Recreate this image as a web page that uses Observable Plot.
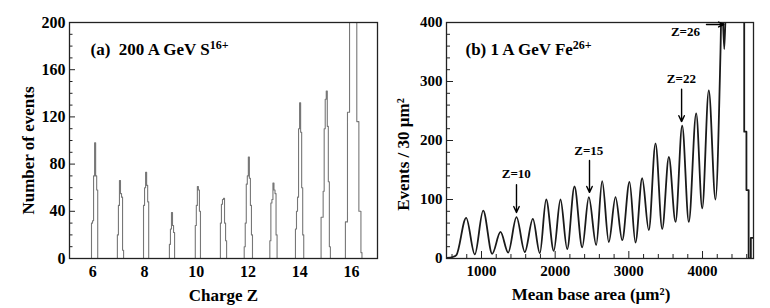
<!DOCTYPE html>
<html><head><meta charset="utf-8">
<script src="https://cdn.jsdelivr.net/npm/d3@7"></script>
<script src="https://cdn.jsdelivr.net/npm/@observablehq/plot@0.6"></script>
<style>
body{margin:0;background:#fff;}
#wrap{display:flex;width:770px;height:308px;overflow:hidden;}
svg text{font-family:"Liberation Serif","Times New Roman",serif;}
</style></head><body><div id="wrap"></div>
<script>
// ---- Panel (a): 200 A GeV S16+ ----
const zBinWidth = 0.04;
const peakStartsA = [5.95, 6.95, 7.96, 8.96, 9.96, 10.93, 11.85, 12.84, 13.83, 14.82, 15.76];
const peakCountsA = [
  [30, 32, 70, 98, 70, 58],
  [20, 45, 66, 55, 52, 7],
  [45, 60, 73, 62, 48],
  [12, 25, 39, 28, 22],
  [28, 45, 61, 58, 40],
  [30, 46, 50, 51, 30, 15],
  [10, 30, 63, 70, 86, 68, 45, 20],
  [15, 47, 50, 64, 58, 55, 20],
  [25, 40, 52, 110, 132, 107, 60, 20],
  [35, 35, 57, 110, 135, 142, 112, 65, 10],
  [31, 31, 124, 124, 250, 270, 280, 270, 250, 230, 210, 116, 116, 40, 40, 5]
];
const xTicksA = [6, 8, 10, 12, 14, 16];
const yTicksA = [0, 40, 80, 120, 160, 200];
const yMinorA = [10, 20, 30, 50, 60, 70, 90, 100, 110, 130, 140, 150, 170, 180, 190];

// ---- Panel (b): 1 A GeV Fe26+ ----
const areaB = [525, 620, 660, 792, 909, 1023, 1145, 1258, 1362, 1475, 1588, 1697, 1792, 1878, 1981, 2072, 2163, 2262, 2367, 2457, 2557, 2638, 2728, 2819, 2910, 3009, 3090, 3181, 3271, 3362, 3453, 3543, 3634, 3724, 3814, 3914, 3996, 4085, 4176, 4244, 4262, 4295, 4325, 4540];
const eventsB = [1, 3, 6, 69, 7, 81, 8, 45, 10, 70, 11, 67, 9, 100, 13, 100, 16, 122, 19, 104, 23, 131, 28, 104, 31, 130, 27, 136, 48, 195, 50, 172, 62, 225, 62, 246, 85, 285, 100, 350, 450, 355, 450, 450];
const tailAreaB = [4540, 4566, 4596, 4626, 4656, 4692];
const tailEventsB = [450, 215, 116, 0, 35, 35];
const xTicksB = [1000, 2000, 3000, 4000];
const xMinorB = [600, 800, 1200, 1400, 1600, 1800, 2200, 2400, 2600, 2800, 3200, 3400, 3600, 3800, 4200, 4400, 4600];
const yTicksB = [0, 100, 200, 300, 400];
const yMinorB = [20, 40, 60, 80, 120, 140, 160, 180, 220, 240, 260, 280, 320, 340, 360, 380];
const noteTextB = ["Z=10", "Z=15", "Z=22", "Z=26"];
const noteXB = [1472, 2457, 3713, 3769];
const noteYB = [143.5, 183, 305, 383.6];
const arrowX1B = [1475, 2466, 3716, 4054];
const arrowY1B = [125, 166, 287, 396.6];
const arrowX2B = [1475, 2466, 3716, 4289];
const arrowY2B = [78, 112, 232, 396.6];

const FONT = "Liberation Serif";
const baseStyle = {fontFamily: FONT, fontWeight: "bold", fontSize: "15px", color: "black", background: "white", overflow: "visible"};
const fmt = d => String(d);

// build histogram step data for (a)
const histA = [];
peakStartsA.forEach((s, i) => {
  const c = peakCountsA[i];
  histA.push({peak: i, x: s, y: 0});
  c.forEach((v, j) => histA.push({peak: i, x: s + j * zBinWidth, y: v}));
  histA.push({peak: i, x: s + c.length * zBinWidth, y: 0});
});

const T = {fontFamily: FONT, fontWeight: "bold", fill: "black"};

const plotA = Plot.plot({
  width: 385, height: 308,
  marginLeft: 69, marginRight: 8, marginTop: 22, marginBottom: 50,
  style: baseStyle,
  x: {domain: [5.1, 17.0], label: null},
  y: {domain: [0, 200], label: null},
  marks: [
    Plot.line(histA, {x: "x", y: "y", z: "peak", curve: "step-after", stroke: "#777", strokeWidth: 1.1, clip: true}),
    Plot.axisY(yMinorA, {tickSize: -3.5, fill: "none", stroke: "#222", label: null}),
    Plot.axisY(yTicksA, {tickSize: -6, fill: "none", stroke: "#222", label: null}),
    Plot.axisY(yTicksA, {...T, tickSize: 0, tickPadding: 4, fontSize: 16, tickFormat: fmt, label: null}),
    Plot.axisX(xTicksA, {...T, tickSize: 0, tickPadding: 7, fontSize: 16, tickFormat: fmt, label: null}),
    Plot.frame({stroke: "#222", strokeWidth: 1.3}),
    Plot.text(["Charge Z"], {...T, text: d => d, frameAnchor: "bottom", lineAnchor: "middle", textAnchor: "middle", dy: 37, fontSize: 17}),
    Plot.text(["Number of events"], {...T, text: d => d, frameAnchor: "left", textAnchor: "middle", lineAnchor: "middle", dx: -41, dy: 10, rotate: -90, fontSize: 17}),
    Plot.text(["(a)\u00a0 200 A GeV S"], {...T, text: d => d, frameAnchor: "top-left", textAnchor: "start", lineAnchor: "middle", dx: 21, dy: 27, fontSize: 17})
  ]
});

const mainB = areaB.map((a, i) => ({x: a, y: eventsB[i]}));
const tailB = tailAreaB.map((a, i) => ({x: a, y: tailEventsB[i]}));
const notesB = noteTextB.map((t, i) => ({t, x: noteXB[i], y: noteYB[i]}));
const arrowsB = arrowX1B.map((x1, i) => ({x1, y1: arrowY1B[i], x2: arrowX2B[i], y2: arrowY2B[i]}));

const plotB = Plot.plot({
  width: 385, height: 308,
  marginLeft: 61, marginRight: 17, marginTop: 22, marginBottom: 50,
  style: baseStyle,
  x: {domain: [525, 4692], label: null},
  y: {domain: [0, 400], label: null},
  marks: [
    Plot.line(mainB, {x: "x", y: "y", curve: "monotone-x", stroke: "#1a1a1a", strokeWidth: 1.8, clip: true}),
    Plot.line(tailB, {x: "x", y: "y", curve: "step-after", stroke: "#1a1a1a", strokeWidth: 1.8, clip: true}),
    Plot.axisY(yMinorB, {tickSize: -4, fill: "none", stroke: "#222", label: null}),
    Plot.axisY(yTicksB, {tickSize: -7, fill: "none", stroke: "#222", label: null}),
    Plot.axisY(yTicksB, {...T, tickSize: 0, tickPadding: 4, fontSize: 15, tickFormat: fmt, label: null}),
    Plot.axisX(xMinorB, {tickSize: -4, fill: "none", stroke: "#222", label: null}),
    Plot.axisX(xTicksB, {tickSize: -7, fill: "none", stroke: "#222", label: null}),
    Plot.axisX(xTicksB, {...T, tickSize: 0, tickPadding: 7, fontSize: 15, tickFormat: fmt, label: null}),
    Plot.frame({stroke: "#222", strokeWidth: 1.3}),
    Plot.arrow(arrowsB, {x1: "x1", y1: "y1", x2: "x2", y2: "y2", stroke: "black", strokeWidth: 1.4, headLength: 7, headAngle: 50}),
    Plot.text(notesB, {...T, x: "x", y: "y", text: "t", fontSize: 13}),
    Plot.text(["Mean base area (\u00b5m\u00b2)"], {...T, text: d => d, frameAnchor: "bottom", lineAnchor: "middle", textAnchor: "middle", dx: -9, dy: 36, fontSize: 17}),
    Plot.text(["Events / 30 \u00b5m\u00b2"], {...T, text: d => d, frameAnchor: "left", textAnchor: "middle", lineAnchor: "middle", dx: -43, dy: 14, rotate: -90, fontSize: 17}),
    Plot.text(["(b) 1 A GeV Fe"], {...T, text: d => d, frameAnchor: "top-left", textAnchor: "start", lineAnchor: "middle", dx: 19, dy: 27, fontSize: 17})
  ]
});

function addSup(svg, base, sup) {
  d3.select(svg).selectAll("text").filter(function() { return this.textContent === base; })
    .append("tspan").attr("font-size", 12).attr("dy", -6).text(sup);
}
addSup(plotA, "(a)\u00a0 200 A GeV S", "16+");
addSup(plotB, "(b) 1 A GeV Fe", "26+");

document.getElementById("wrap").append(plotA, plotB);
</script>
</body></html>
